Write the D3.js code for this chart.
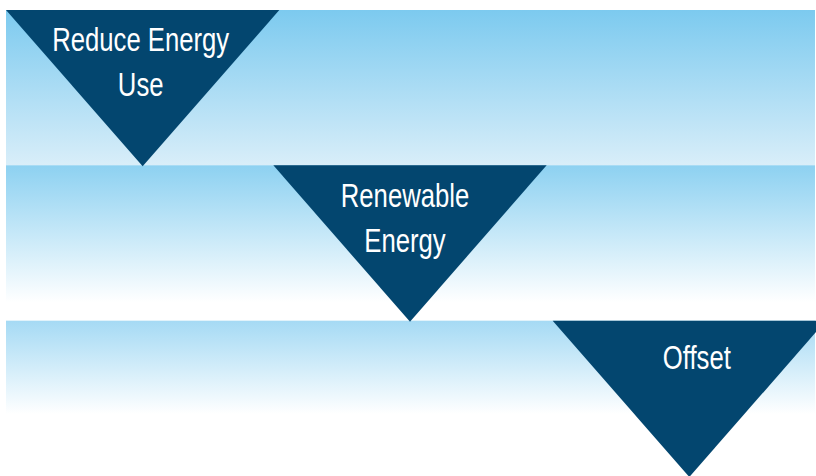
<!DOCTYPE html>
<html>
<head>
<meta charset="utf-8">
<script src="https://cdn.jsdelivr.net/npm/d3@7"></script>
<style>
  html, body { margin: 0; padding: 0; background: #ffffff; }
  svg { display: block; }
</style>
</head>
<body>
<svg id="chart" width="816" height="476"></svg>
<script>
// ---- data ----
const steps = ["Reduce Energy Use", "Renewable Energy", "Offset"];
const labelLines = [["Reduce Energy", "Use"], ["Renewable", "Energy"], ["Offset"]];
const bandTopColors = ["#7ccaef", "#8dd1f1", "#a5daf4"];
const bandBottomColors = ["#d9eef9", "#ffffff", "#ffffff"];

// ---- layout ----
const svg = d3.select("#chart");
const defs = svg.append("defs");

const y = d3.scaleBand().domain(steps).range([10, 476]).paddingInner(0);
const x = d3.scaleBand().domain(steps).range([6, 826]).paddingInner(0);
const xShift = [0, -6, 0];

const fadeStop = [1.0, 0.88, 0.6];

steps.forEach((s, i) => {
  const g = defs.append("linearGradient")
    .attr("id", "grad" + i).attr("x1", 0).attr("y1", 0).attr("x2", 0).attr("y2", 1);
  g.append("stop").attr("offset", 0).attr("stop-color", bandTopColors[i]);
  g.append("stop").attr("offset", fadeStop[i]).attr("stop-color", bandBottomColors[i]);
  g.append("stop").attr("offset", 1).attr("stop-color", bandBottomColors[i]);
});

// bands
svg.append("g").selectAll("rect")
  .data(steps)
  .join("rect")
  .attr("x", 6)
  .attr("y", d => y(d))
  .attr("width", 815 - 6)
  .attr("height", y.bandwidth() + 0.5)
  .attr("fill", (d, i) => `url(#grad${i})`);

// triangles
const tri = (d, i) => {
  const l = x(d) + xShift[i], r = l + x.bandwidth(), t = y(d), b = y(d) + y.bandwidth() + 1;
  return `M${l},${t}L${r},${t}L${(l + r) / 2},${b}Z`;
};
svg.append("g").selectAll("path")
  .data(steps)
  .join("path")
  .attr("d", tri)
  .attr("fill", "#03466f");

// labels
const dxs = [-2, -5, 7.5];
const firstBase = [41, 42, 48];
const lineGap = 45;
svg.append("g").selectAll("text")
  .data(steps)
  .join("text")
  .attr("text-anchor", "middle")
  .attr("fill", "#ffffff")
  .attr("transform", (d, i) => {
    const cx = x(d) + xShift[i] + x.bandwidth() / 2 + dxs[i];
    return `translate(${cx},${y(d) + firstBase[i]}) scale(0.755,1)`;
  })
  .style("font-family", "'Liberation Sans', Arial, sans-serif")
  .style("font-size", "34px")
  .each(function (d, i) {
    const t = d3.select(this);
    labelLines[i].forEach((ln, j) => {
      t.append("tspan").attr("x", 0).attr("y", j * lineGap).text(ln);
    });
  });
</script>
</body>
</html>
